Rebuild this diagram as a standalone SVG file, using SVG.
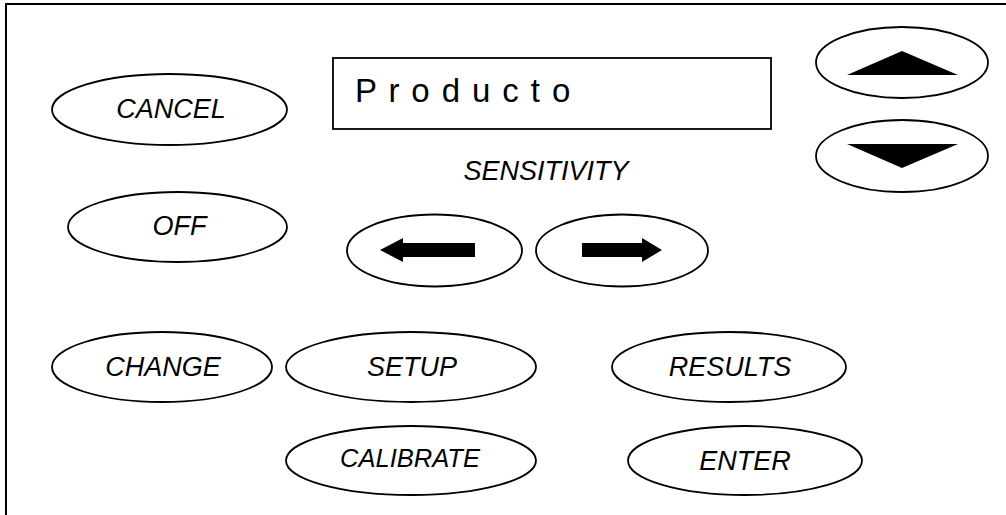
<svg xmlns="http://www.w3.org/2000/svg" width="1006" height="515" viewBox="0 0 1006 515">
<style>
  .btn { fill: #fff; stroke: #000; stroke-width: 1.8; }
  .lbl { font-family: "Liberation Sans", Arial, sans-serif; font-style: italic; font-size: 27px; fill: #000; text-anchor: middle; }
  .sym { fill: #000; stroke: none; }
</style>
<rect width="1006" height="515" fill="#fff"/>
<path id="frame" d="M6,515 V4 H1006" fill="none" stroke="#000" stroke-width="2"/>
<g id="display">
  <rect x="333" y="58" width="438" height="71" fill="#fff" stroke="#000" stroke-width="1.8"/>
  <text x="355" y="102" font-family="Liberation Sans, Arial, sans-serif" font-size="33" letter-spacing="1.4" fill="#000">P r o d u c t o</text>
</g>
<g id="sensitivity-label">
  <text class="lbl" x="546" y="180">SENSITIVITY</text>
</g>
<g id="cancel">
  <ellipse class="btn" cx="169.5" cy="109.5" rx="117.5" ry="35.5"/>
  <text class="lbl" x="171" y="118">CANCEL</text>
</g>
<g id="off">
  <ellipse class="btn" cx="177.5" cy="227" rx="109.5" ry="35"/>
  <text class="lbl" x="179.5" y="235">OFF</text>
</g>
<g id="up">
  <ellipse class="btn" cx="902" cy="62.5" rx="86" ry="35.5"/>
  <polygon class="sym" points="902,51 958,75 847,75"/>
</g>
<g id="down">
  <ellipse class="btn" cx="902" cy="156" rx="86" ry="36"/>
  <polygon class="sym" points="847,144 958,144 902,168"/>
</g>
<g id="left">
  <ellipse class="btn" cx="434.5" cy="250.5" rx="87.5" ry="36"/>
  <polygon class="sym" points="380,250 403,238 403,243 475,243 475,257 403,257 403,262"/>
</g>
<g id="right">
  <ellipse class="btn" cx="622" cy="250.5" rx="86" ry="36"/>
  <polygon class="sym" points="662,250 642,238 642,243 582,243 582,257 642,257 642,262"/>
</g>
<g id="change">
  <ellipse class="btn" cx="162" cy="367" rx="110" ry="35"/>
  <text class="lbl" x="163" y="376">CHANGE</text>
</g>
<g id="setup">
  <ellipse class="btn" cx="411" cy="367" rx="125" ry="35"/>
  <text class="lbl" x="412" y="376">SETUP</text>
</g>
<g id="results">
  <ellipse class="btn" cx="729" cy="367" rx="117" ry="35"/>
  <text class="lbl" x="730" y="376">RESULTS</text>
</g>
<g id="calibrate">
  <ellipse class="btn" cx="411" cy="460.5" rx="125" ry="34.5"/>
  <text class="lbl" x="410" y="467" style="font-size:25.5px">CALIBRATE</text>
</g>
<g id="enter">
  <ellipse class="btn" cx="745" cy="460.5" rx="117" ry="34.5"/>
  <text class="lbl" x="745" y="470">ENTER</text>
</g>
<g id="connectors"></g>
</svg>
